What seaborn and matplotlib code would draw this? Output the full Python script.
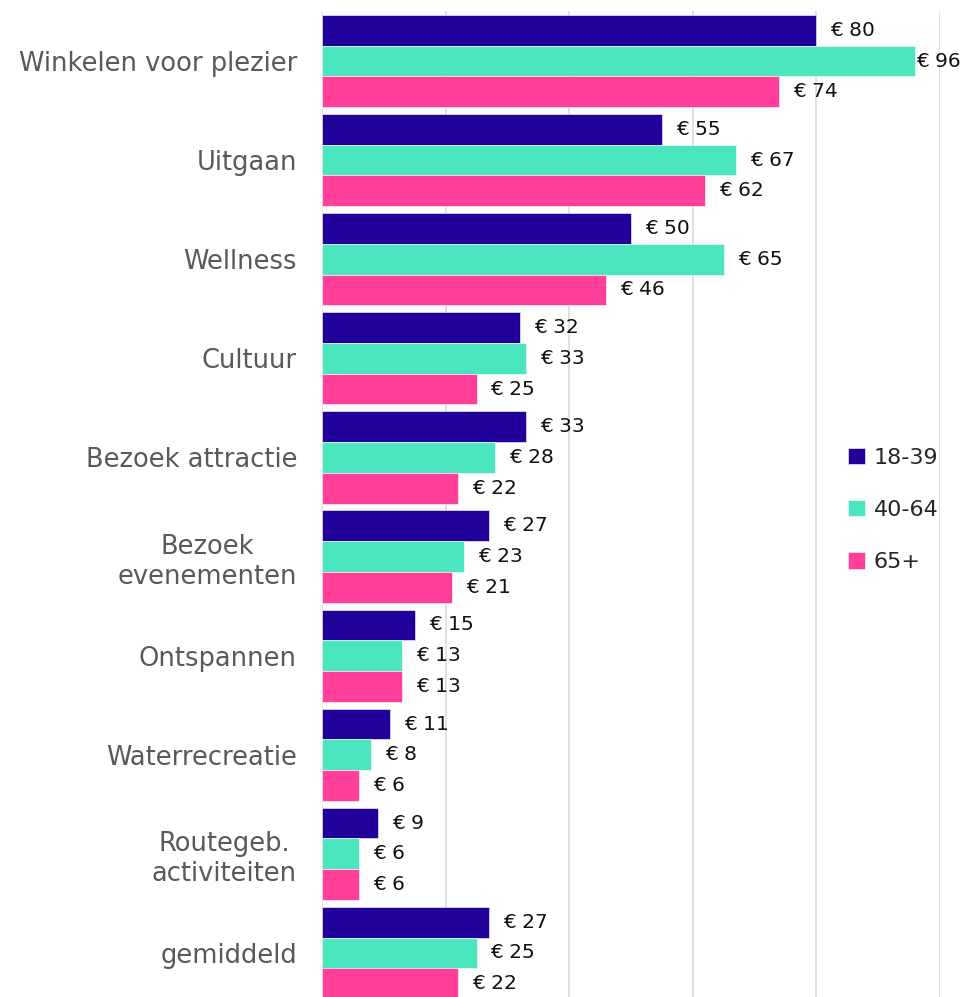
import matplotlib
matplotlib.use("Agg")
import matplotlib.pyplot as plt
import seaborn as sns
import pandas as pd
import numpy as np

categories = ["Winkelen voor plezier", "Uitgaan", "Wellness", "Cultuur", "Bezoek attractie",
              "Bezoek\nevenementen", "Ontspannen", "Waterrecreatie", "Routegeb.\nactiviteiten", "gemiddeld"]
groups = ["18-39", "40-64", "65+"]
v_18_39 = [80, 55, 50, 32, 33, 27, 15, 11, 9, 27]
v_40_64 = [96, 67, 65, 33, 28, 23, 13, 8, 6, 25]
v_65 = [74, 62, 46, 25, 22, 21, 13, 6, 6, 22]
colors = ["#22009A", "#4BE6C0", "#FF3F98"]

rows = []
for g, vals in zip(groups, [v_18_39, v_40_64, v_65]):
    for c, v in zip(categories, vals):
        rows.append({"cat": c, "group": g, "value": v})
df = pd.DataFrame(rows)

sns.set_theme(style="white")
plt.rcParams['font.family'] = ['DejaVu Sans']

fig = plt.figure(figsize=(9.64, 9.97), dpi=100)
ax = fig.add_axes([322/964, -0.0055, (940-322)/964, 0.9885 + 0.0055])

sns.barplot(data=df, y="cat", x="value", hue="group", order=categories, hue_order=groups,
            palette=colors, orient="h", width=0.93, dodge=True, ax=ax, saturation=1,
            edgecolor="white", linewidth=0.4, legend=True, zorder=3)

ax.set_xlim(0, 100)
ax.set_xticks([0, 20, 40, 60, 80, 100])
ax.xaxis.grid(True, color="#D9D9D9", linewidth=1.1, zorder=0)
ax.yaxis.grid(False)
ax.set_axisbelow(True)
ax.tick_params(axis="x", labelbottom=False, length=0)
ax.tick_params(axis="y", length=0, pad=18, labelsize=18.5, labelcolor="#595959")
for lab in ax.get_yticklabels():
    lab.set_multialignment("center")
for s in ax.spines.values():
    s.set_visible(False)
ax.set_xlabel("")
ax.set_ylabel("")

# value labels
for cont in ax.containers:
    for rect in cont:
        w = rect.get_width()
        y = rect.get_y() + rect.get_height() / 2
        off = 14 if w < 90 else 1
        ax.annotate(f"€ {w:.0f}", xy=(w, y), xytext=(off, 0), textcoords="offset pixels",
                    ha="left", va="center", fontsize=14.5, color="#111111",
                    annotation_clip=False)

leg = ax.legend(loc="center left", bbox_to_anchor=(828/964, 1 - 510/997),
                bbox_transform=fig.transFigure, frameon=False, fontsize=16,
                handlelength=0.75, handleheight=0.75, handletextpad=0.4, labelspacing=1.45)
ax.set_ylim(len(categories) - 0.5, -0.5)

fig.savefig("out.png", dpi=100)
